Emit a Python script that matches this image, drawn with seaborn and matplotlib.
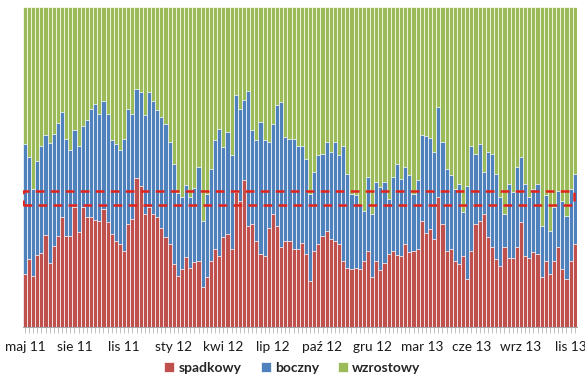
import matplotlib
matplotlib.use("Agg")
import matplotlib.pyplot as plt
from matplotlib.patches import Rectangle
import seaborn as sns
import pandas as pd
import numpy as np

# cumulative top of blue (spadkowy + boczny), percent
top_blue = [
    57.3, 53.1, 43.2, 52.0, 56.5, 59.9, 57.5, 60.4, 63.8, 67.2, 58.8, 55.4, 61.7, 56.5, 62.7, 64.8, 68.2,
    69.8, 66.7, 70.6, 66.7, 58.3, 57.3, 55.2, 58.8, 68.2, 66.7, 74.5, 73.5, 66.1, 73.5, 70.6, 67.7, 65.6,
    63.5, 57.8, 51.0, 41.8, 40.5, 44.5, 40.5, 43.5, 50.0, 33.2, 41.6, 49.4, 58.3, 62.0, 56.2, 60.9, 53.6,
    72.4, 68.2, 70.9, 73.8, 61.4, 58.3, 64.1, 58.3, 57.8, 63.5, 69.3, 70.3, 59.4, 58.8, 58.8, 56.4, 56.7,
    52.6, 41.6, 48.4, 53.6, 54.1, 57.8, 54.7, 57.8, 53.6, 56.7, 47.9, 41.6, 41.1, 38.0, 36.4, 46.8, 35.3,
    45.2, 43.7, 45.2, 40.0, 46.8, 51.0, 46.3, 50.0, 47.4, 41.6, 45.8, 59.9, 59.6, 59.2, 54.7, 68.8, 57.8,
    49.4, 47.4, 43.2, 44.7, 35.8, 44.2, 56.7, 54.1, 57.3, 48.4, 54.7, 54.1, 47.9, 40.5, 35.3, 44.7, 42.1,
    50.0, 53.1, 44.7, 40.5, 43.2, 44.7, 31.7, 41.1, 30.1, 37.4, 42.6, 39.5, 34.8, 43.2, 47.9,
]
spadkowy = [
    16.7, 21.4, 15.8, 22.6, 23.1, 28.7, 20.1, 25.2, 28.5, 34.3, 28.5, 28.5, 37.4, 29.6, 37.6, 34.3, 34.3,
    33.4, 33.2, 36.9, 32.7, 29.0, 27.0, 25.9, 23.8, 32.2, 33.8, 46.5, 44.2, 35.3, 37.4, 35.3, 34.3, 31.1,
    28.0, 25.9, 19.6, 16.0, 18.1, 21.9, 18.6, 20.2, 20.7, 12.5, 15.5, 20.7, 24.3, 22.3, 28.0, 29.0, 24.3,
    42.1, 39.5, 45.8, 31.7, 32.2, 27.0, 22.8, 22.3, 31.1, 35.3, 31.7, 24.9, 27.0, 27.0, 24.3, 24.3, 26.4,
    22.8, 14.4, 23.8, 25.9, 28.5, 30.1, 27.5, 27.0, 26.1, 20.7, 18.6, 18.1, 18.6, 18.1, 20.7, 23.8, 15.5,
    20.7, 17.8, 19.9, 22.8, 23.8, 22.6, 22.3, 25.9, 23.3, 23.8, 24.3, 33.2, 29.3, 30.6, 27.5, 40.5, 32.2,
    23.8, 24.3, 20.7, 19.6, 22.3, 14.9, 23.8, 32.2, 33.2, 35.3, 28.0, 24.9, 21.2, 19.1, 24.9, 21.7, 21.7,
    24.9, 32.7, 22.3, 21.7, 23.3, 22.8, 15.5, 20.7, 16.5, 20.7, 24.9, 18.1, 14.9, 20.7, 25.9,
]
boczny = [round(t - s, 1) for t, s in zip(top_blue, spadkowy)]
wzrostowy = [round(100 - t, 1) for t in top_blue]

month_labels = ["maj 11", "sie 11", "lis 11", "sty 12", "kwi 12", "lip 12",
                "paź 12", "gru 12", "mar 13", "cze 13", "wrz 13", "lis 13"]
label_every = 12

n = len(spadkowy)
df = pd.DataFrame({
    "idx": np.arange(n),
    "spadkowy": spadkowy,
    "boczny": boczny,
    "wzrostowy": wzrostowy,
})
df["sb"] = df["spadkowy"] + df["boczny"]
df["all"] = df["sb"] + df["wzrostowy"]

RED = "#C0504D"
BLUE = "#4F81BD"
GREEN = "#9BBB59"

sns.set_style("white")
plt.rcParams["font.family"] = ["Lato", "DejaVu Sans"]

fig = plt.figure(figsize=(5.85, 3.83), dpi=100)
ax = fig.add_axes([0.039, 0.146, 0.947, 0.836])

kw = dict(x="idx", native_scale=True, width=1.0, edgecolor="white", linewidth=0.5, ax=ax)
sns.barplot(data=df, y="all", color=GREEN, saturation=1, label="wzrostowy", **kw)
sns.barplot(data=df, y="sb", color=BLUE, saturation=1, label="boczny", **kw)
sns.barplot(data=df, y="spadkowy", color=RED, saturation=1, label="spadkowy", **kw)

handles, labs = ax.get_legend_handles_labels()
if ax.get_legend() is not None:
    ax.get_legend().remove()

ax.set_xlim(-0.5, n - 0.5)
ax.set_ylim(0, 100)
ax.set_yticks([])
ax.set_xlabel("")
ax.set_ylabel("")
for s in ["top", "right", "left"]:
    ax.spines[s].set_visible(False)
ax.spines["bottom"].set_color("#A6A6A6")
ax.spines["bottom"].set_linewidth(0.8)

ax.set_xticks(np.arange(n))
labels = [""] * n
for i, lab in enumerate(month_labels):
    if i * label_every < n:
        labels[i * label_every] = lab
ax.set_xticklabels(labels, fontsize=9.8, color="#1A1A1A")
for t in ax.get_xticklabels():
    t.set_horizontalalignment("center")
ax.tick_params(axis="x", length=4, width=0.5, color="#A6A6A6", pad=6, bottom=True)

# dashed red band
rect = Rectangle((-0.35, 38.2), n - 0.9, 4.4, fill=False, edgecolor="#E3231B",
                 linewidth=1.8, linestyle=(0, (3.5, 2.5)))
ax.add_patch(rect)

order = [labs.index("spadkowy"), labs.index("boczny"), labs.index("wzrostowy")]
fig.legend([handles[i] for i in order], [labs[i] for i in order],
           loc="center", bbox_to_anchor=(0.5, 0.04), ncol=3, frameon=False,
           handlelength=0.7, handleheight=0.7, handletextpad=0.3, columnspacing=1.4,
           prop={"weight": "bold", "size": 10})

fig.savefig("out.png", dpi=100)
